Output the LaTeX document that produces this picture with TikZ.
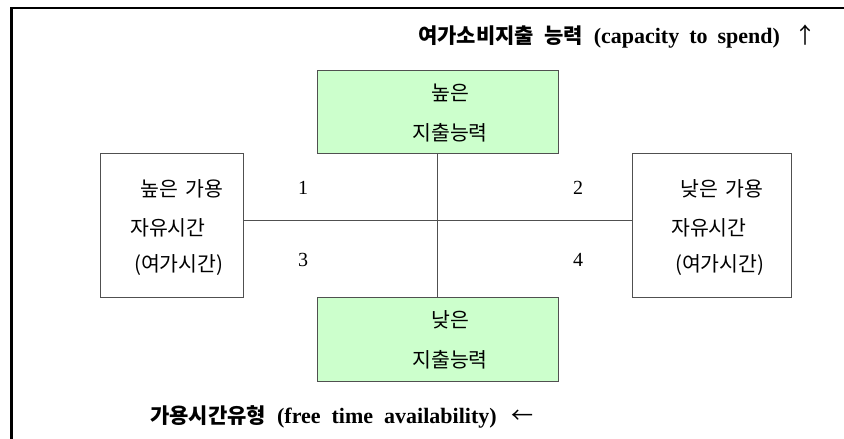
\documentclass[tikz,border=0pt]{standalone}
\usepackage{fontspec}
\setmainfont{Liberation Serif}
\newfontfamily\kr{Noto Sans CJK KR}
\definecolor{boxgreen}{HTML}{CCFFCC}
\definecolor{edge}{HTML}{505050}
\begin{document}
\begin{tikzpicture}[x=1pt,y=-1pt,
  box/.style={draw=edge,line width=1pt,inner sep=0pt},
  gbox/.style={draw=edge,line width=1pt,fill=boxgreen,inner sep=0pt},
  txt/.style={inner sep=0pt,anchor=west,font=\kr\fontsize{20.5}{22}\selectfont},
  ctxt/.style={inner sep=0pt,font=\kr\fontsize{20.5}{22}\selectfont},
  num/.style={inner sep=0pt,font=\fontsize{20}{20}\selectfont},
  ttl/.style={inner sep=0pt,anchor=west,font=\fontsize{22}{23}\selectfont\bfseries},
  link/.style={draw=edge,line width=0.9pt}]
\useasboundingbox (0,0) rectangle (844,439);
\fill[white] (0,0) rectangle (844,439);
% frame
\draw[line width=2.7pt,black] (11.3,439) -- (11.3,8) -- (844,8);
% boxes
\node[gbox,minimum width=241pt,minimum height=83pt] (top) at (437.5,111.5) {};
\node[gbox,minimum width=241pt,minimum height=84pt] (bot) at (437.5,339) {};
\node[box,minimum width=143pt,minimum height=144pt] (left) at (171.5,225) {};
\node[box,minimum width=159pt,minimum height=144pt] (right) at (711.5,225) {};
% connectors
\coordinate (mid) at (437.5,220.5);
\draw[link] (left.east |- mid) -- (right.west |- mid);
\draw[link] (top.south -| mid) -- (bot.north -| mid);
% box texts
\node[ctxt] (t1) at (450,93) {높은};
\node[ctxt] (t2) at (450,133) {지출능력};
\node[ctxt] (b1) at (450,320) {낮은};
\node[ctxt] (b2) at (450,360) {지출능력};
\node[txt] (l1) at (140,189) {높은\hspace{3pt} 가용};
\node[txt] (l2) at (130,228) {자유시간};
\node[txt] (l3) at (134,265) {(여가시간)};
\node[txt] (r1) at (680,189) {낮은\hspace{3pt} 가용};
\node[txt] (r2) at (671,228) {자유시간};
\node[txt] (r3) at (675,265) {(여가시간)};
% numbers
\node[num] (n1) at (303,188) {1};
\node[num] (n2) at (578,188) {2};
\node[num] (n3) at (303,260) {3};
\node[num] (n4) at (578,260) {4};
% titles
\node[ttl] (title) at (418,37) {{\kr\bfseries\fontsize{21}{22}\selectfont 여가소비지출\hspace{10pt}능력}\hspace{11pt}(capacity\hspace{10pt}to\hspace{10pt}spend)\hspace{15pt}{\kr\mdseries ↑}};
\node[ttl] (foot) at (150,417) {{\kr\bfseries\fontsize{21}{22}\selectfont 가용시간유형}\hspace{11pt}(free\hspace{11pt}time\hspace{11pt}availability)\hspace{15pt}{\kr\mdseries ←}};
\end{tikzpicture}
\end{document}
